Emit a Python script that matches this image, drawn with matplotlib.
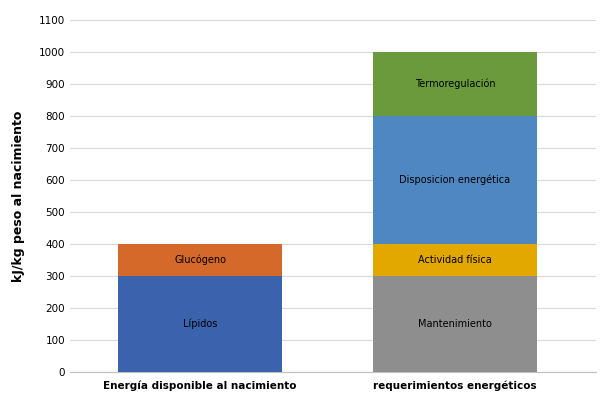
import matplotlib
matplotlib.use("Agg")
import matplotlib.pyplot as plt

categories = ["Energía disponible al nacimiento", "requerimientos energéticos"]
segments = [
    ("Lípidos", 0, 300, "#3A62AD"),
    ("Glucógeno", 0, 100, "#D4692A"),
    ("Mantenimiento", 1, 300, "#8E8E8E"),
    ("Actividad física", 1, 100, "#E2A800"),
    ("Disposicion energética", 1, 400, "#4F87C2"),
    ("Termoregulación", 1, 200, "#6B9A3C"),
]
yticks = list(range(0, 1101, 100))

fig = plt.figure(figsize=(6, 4.11), dpi=100)
ax = fig.add_axes([70/600, 1-372/411, 526/600, 352/411])
bottoms = [0, 0]
for name, cat, val, col in segments:
    ax.bar(cat, val, bottom=bottoms[cat], width=0.64, color=col, zorder=3)
    ax.text(cat, bottoms[cat] + val/2, name, ha="center", va="center", fontsize=7, color="black", zorder=4)
    bottoms[cat] += val
ax.set_xlim(-0.51, 1.553)
ax.set_ylim(0, 1100)
ax.set_yticks(yticks)
ax.yaxis.grid(True, color="#D9D9D9", linewidth=0.8, zorder=0)
ax.set_xticks([0, 1])
ax.set_xticklabels(categories, fontsize=9, fontweight="bold")
ax.tick_params(axis="both", length=0, labelsize=7.5)
ax.tick_params(axis="x", pad=6)
for s in ["top", "right", "left"]:
    ax.spines[s].set_visible(False)
ax.spines["bottom"].set_color("#BFBFBF")
ax.set_ylabel("kJ/kg peso al nacimiento", fontsize=9, fontweight="bold", labelpad=10)
fig.savefig("out.png", dpi=100)
